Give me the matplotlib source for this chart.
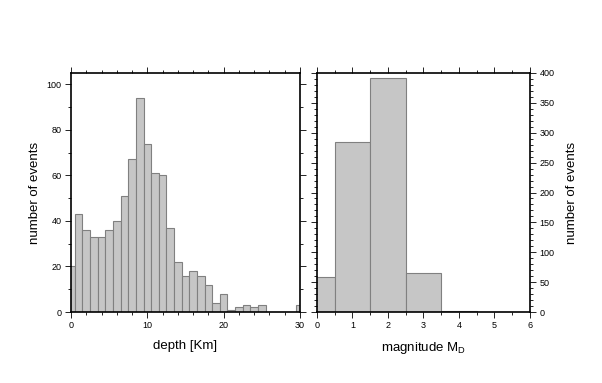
import matplotlib
matplotlib.use('Agg')
import matplotlib.pyplot as plt
from matplotlib.ticker import MultipleLocator

plt.rcParams['font.family'] = ['Liberation Sans', 'DejaVu Sans']

# depth histogram, bins of 1 km centred on integer depths
depth_bins = list(range(0, 31))
depth_counts = [20, 43, 36, 33, 33, 36, 40, 51, 67, 94, 74, 61, 60, 37, 22, 16,
                18, 16, 12, 4, 8, 1, 2, 3, 2, 3, 0, 0, 0, 0, 3]
# magnitude histogram, bins of 1 centred on integer magnitudes
mag_bins = [0, 1, 2, 3, 4, 5]
mag_counts = [58, 285, 391, 65, 1, 0]

W, H = 602, 383
fig = plt.figure(figsize=(W / 100, H / 100), dpi=100)

ax1 = fig.add_axes([71 / W, 1 - 312 / H, (300 - 71) / W, (312 - 73) / H])
ax2 = fig.add_axes([317 / W, 1 - 312 / H, (530 - 317) / W, (312 - 73) / H])

bar_kw = dict(width=1.0, color='#c6c6c6', edgecolor='#808080', linewidth=0.8)
ax1.bar(depth_bins, depth_counts, **bar_kw)
ax2.bar(mag_bins, mag_counts, **bar_kw)

ax1.set_xlim(0, 30)
ax1.set_ylim(0, 105)
ax2.set_xlim(0, 6)
ax2.set_ylim(0, 400)

ax1.xaxis.set_major_locator(MultipleLocator(10))
ax1.xaxis.set_minor_locator(MultipleLocator(2))
ax1.yaxis.set_major_locator(MultipleLocator(20))
ax1.yaxis.set_minor_locator(MultipleLocator(10))
ax2.xaxis.set_major_locator(MultipleLocator(1))
ax2.xaxis.set_minor_locator(MultipleLocator(0.5))
ax2.yaxis.set_major_locator(MultipleLocator(50))
ax2.yaxis.set_minor_locator(MultipleLocator(10))

for ax in (ax1, ax2):
    for s in ax.spines.values():
        s.set_linewidth(1.2)
        s.set_zorder(5)
    ax.tick_params(which='both', direction='out', top=True, right=True, left=True,
                   bottom=True, labelsize=6.5, width=0.6, pad=2.5)
    ax.tick_params(which='major', length=4.3)
    ax.tick_params(which='minor', length=2.2)

ax1.tick_params(labelright=False, labeltop=False)
ax2.tick_params(labelleft=False, labelright=True, labeltop=False)
ax2.yaxis.set_label_position('right')

ax1.set_xlabel('depth [Km]', fontsize=9.5, labelpad=7)
ax1.set_ylabel('number of events', fontsize=9.5)
ax1.yaxis.set_label_coords(-0.129, 0.5)
ax2.set_xlabel(r'magnitude M$_\mathregular{D}$', fontsize=9.5, labelpad=7)
ax2.set_ylabel('number of events', fontsize=9.5, labelpad=8)

fig.savefig('out.png', dpi=100)
